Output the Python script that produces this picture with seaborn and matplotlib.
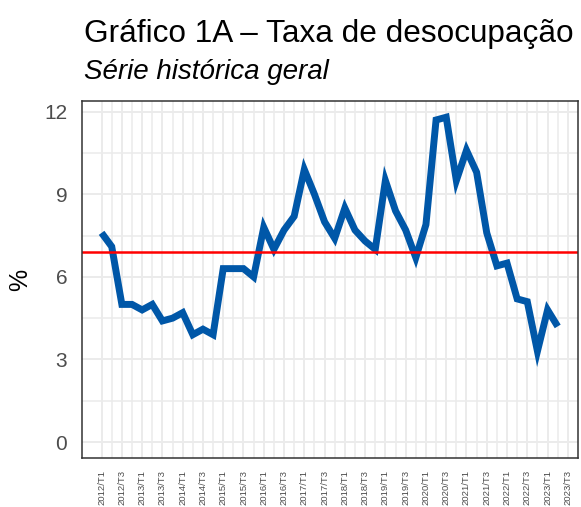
import matplotlib
matplotlib.use("Agg")
import matplotlib.pyplot as plt
import seaborn as sns
import pandas as pd
import numpy as np

# trimestres 2012/T1 .. 2023/T2
anos = [2012 + i // 4 for i in range(46)]
trimestres = [i % 4 + 1 for i in range(46)]
taxa = [
    7.6, 7.1, 5.0, 5.0, 4.8, 5.0, 4.4, 4.5,
    4.7, 3.9, 4.1, 3.9, 6.3, 6.3, 6.3, 6.0,
    7.8, 7.0, 7.7, 8.2, 9.9, 9.0, 8.0, 7.4,
    8.5, 7.7, 7.3, 7.0, 9.5, 8.4, 7.7, 6.7,
    7.9, 11.7, 11.8, 9.5, 10.6, 9.8, 7.6, 6.4,
    6.5, 5.2, 5.1, 3.3, 4.8, 4.2,
]
media = 6.9

# rótulos do eixo x (de dois em dois trimestres, até 2023/T3)
rotulos = [f"{2012 + i // 4}/T{i % 4 + 1}" for i in range(0, 47, 2)]

df = pd.DataFrame({"ano": anos, "tri": trimestres, "taxa": taxa})
df["idx"] = range(len(df))

sns.set_theme(style="white")
plt.rcParams["font.family"] = ["Liberation Sans", "DejaVu Sans"]

fig = plt.figure(figsize=(5.81, 5.07), dpi=100)
ax = fig.add_axes([0.1417, 0.0961, 0.8531, 0.7047])

ax.set_xlim(-1.9, 47.0)
ax.set_ylim(-0.59, 12.39)

ax.set_yticks([0, 3, 6, 9, 12])
ax.set_yticks([1.5, 4.5, 7.5, 10.5], minor=True)
ax.set_xticks(list(range(0, 47, 2)))
ax.set_xticks(list(range(1, 47, 2)), minor=True)
ax.set_xticklabels(rotulos, rotation=90, fontsize=6.8, color="#4D4D4D", va="top")
ax.set_yticklabels(["0", "3", "6", "9", "12"], fontsize=15, color="#4D4D4D")

ax.grid(which="major", color="#EBEBEB", linewidth=1.4)
ax.grid(which="minor", color="#EBEBEB", linewidth=1.1)
ax.set_axisbelow(True)

ax.tick_params(which="major", length=4.3, width=1.1, color="#333333")
ax.tick_params(which="minor", length=0)
ax.tick_params(axis="y", pad=6.5)
ax.tick_params(axis="x", pad=4)
for s in ax.spines.values():
    s.set_color("#333333")
    s.set_linewidth(1.1)

sns.lineplot(data=df, x="idx", y="taxa", ax=ax, color="#0057A8",
             linewidth=5, solid_joinstyle="miter", solid_capstyle="butt")
ax.axhline(media, color="#FF0000", linewidth=1.8)

ax.set_xlabel("")
ax.set_ylabel("%", fontsize=18, labelpad=9, color="black")

fig.text(0.1445, 1 - 42 / 507, "Gráfico 1A – Taxa de desocupação",
         fontsize=22.7, va="baseline", ha="left", color="black")
fig.text(0.1445, 1 - 79 / 507, "Série histórica geral",
         fontsize=20, style="italic", va="baseline", ha="left", color="black")

fig.savefig("out.png", dpi=100)
